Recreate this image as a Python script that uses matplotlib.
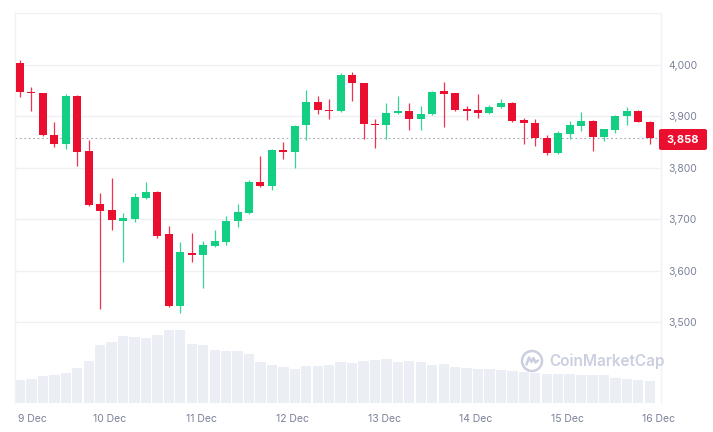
import numpy as np
import matplotlib
matplotlib.use("Agg")
import matplotlib.pyplot as plt
from matplotlib.patches import Circle, FancyBboxPatch

# 3h candles, 9 Dec -> 16 Dec
opens = [4004, 3947, 3944, 3863, 3845, 3940, 3832, 3729, 3718, 3696, 3701, 3742, 3753, 3671,
         3531, 3634, 3630, 3648, 3656, 3696, 3712, 3772, 3764, 3835, 3831, 3882, 3928, 3912,
         3909, 3979, 3964, 3885, 3882, 3906, 3910, 3895, 3904, 3949, 3944, 3913, 3911, 3907,
         3917, 3926, 3893, 3887, 3858, 3828, 3865, 3880, 3891, 3860, 3874, 3901, 3909, 3889]
highs = [4008, 3956, 3945, 3888, 3943, 3941, 3854, 3750, 3780, 3712, 3750, 3772, 3754, 3687,
         3656, 3674, 3657, 3680, 3707, 3729, 3777, 3822, 3837, 3849, 3882, 3950, 3940, 3934,
         3983, 3986, 3965, 3895, 3926, 3940, 3926, 3920, 3948, 3966, 3945, 3920, 3942, 3921,
         3933, 3927, 3896, 3895, 3863, 3872, 3891, 3908, 3893, 3876, 3902, 3917, 3911, 3890]
lows = [3937, 3909, 3861, 3840, 3837, 3804, 3725, 3526, 3680, 3617, 3694, 3739, 3663, 3530,
        3519, 3617, 3566, 3647, 3651, 3685, 3711, 3763, 3757, 3817, 3799, 3854, 3904, 3895,
        3908, 3929, 3856, 3838, 3856, 3905, 3873, 3874, 3902, 3878, 3910, 3893, 3896, 3905,
        3916, 3889, 3845, 3843, 3825, 3827, 3856, 3872, 3832, 3851, 3867, 3883, 3888, 3846]
closes = [3946, 3945, 3863, 3845, 3940, 3830, 3727, 3717, 3698, 3702, 3743, 3753, 3668, 3531,
          3636, 3630, 3650, 3658, 3697, 3715, 3772, 3764, 3835, 3831, 3880, 3928, 3911, 3909,
          3979, 3964, 3885, 3882, 3907, 3910, 3895, 3904, 3947, 3943, 3912, 3909, 3907, 3917,
          3926, 3891, 3887, 3857, 3828, 3867, 3882, 3891, 3860, 3875, 3901, 3909, 3889, 3858]
volumes = [2.27, 2.40, 2.67, 2.77, 3.03, 3.53, 4.20, 5.77, 6.10, 6.67, 6.60, 6.50, 6.77, 7.27,
           7.27, 5.93, 5.77, 5.33, 5.20, 5.20, 4.93, 4.10, 3.77, 3.60, 3.43, 3.67, 3.67, 3.77,
           4.10, 4.03, 4.20, 4.27, 4.37, 4.10, 4.17, 4.10, 3.77, 3.87, 3.60, 3.53, 3.43, 3.43,
           3.33, 3.20, 3.10, 3.03, 2.93, 2.93, 2.87, 2.83, 2.77, 2.77, 2.53, 2.40, 2.27, 2.20]
day_labels = ["9 Dec", "10 Dec", "11 Dec", "12 Dec", "13 Dec", "14 Dec", "15 Dec", "16 Dec"]
price_ticks = [3500, 3600, 3700, 3800, 3900, 4000]
last_price = 3858

RED = "#ea0f2f"
GREEN = "#12cf84"
GRID = "#eff0f4"
TXT = "#7b8199"

W, H = 713, 432
fig = plt.figure(figsize=(W / 100, H / 100), dpi=100)
rect = [15 / W, 1 - 403 / H, (661 - 15) / W, (403 - 13) / H]

x = np.arange(len(opens))

# volume behind
vax = fig.add_axes(rect, zorder=1)
vax.bar(x, volumes, width=0.9, color="#eceef6", linewidth=0)
vax.set_xlim(-0.44, 55.98)
vax.set_ylim(0, 39)
vax.axis("off")

ax = fig.add_axes(rect, zorder=2)
ax.patch.set_alpha(0)
for i in x:
    o, h, l, c = opens[i], highs[i], lows[i], closes[i]
    col = GREEN if c >= o else RED
    ax.vlines(i, l, h, color=col, linewidth=0.9, alpha=0.85, zorder=3)
    lo, hi = min(o, c), max(o, c)
    if hi - lo < 2.5:
        mid = (hi + lo) / 2
        lo, hi = mid - 1.25, mid + 1.25
    ax.bar(i, hi - lo, bottom=lo, width=0.7, color=col, linewidth=0, zorder=4)

ax.axhline(last_price, color="#a3a8b8", linestyle=(0, (1.5, 2.5)), linewidth=0.8, zorder=2)

ax.set_xlim(-0.44, 55.98)
ax.set_ylim(3343.7, 4100)
ax.set_yticks(price_ticks + [4100])
ax.set_yticklabels([f"{v:,}" for v in price_ticks] + [""])
ax.yaxis.tick_right()
ax.grid(axis="y", color=GRID, linewidth=1)
ax.set_axisbelow(True)
ax.tick_params(axis="y", length=0, pad=5, labelsize=7.5, labelcolor=TXT)
ax.tick_params(axis="x", length=0, pad=8, labelsize=7.5, labelcolor=TXT)
for lab in ax.get_yticklabels():
    lab.set_fontfamily("Inter")

ax.set_xticks([8 * k - 0.2 for k in range(len(day_labels))])
ax.set_xticklabels(day_labels)
for k, lab in enumerate(ax.get_xticklabels()):
    lab.set_fontfamily("Inter")
    if k == 0:
        lab.set_ha("left")

for s in ["top", "bottom"]:
    ax.spines[s].set_visible(False)
for s in ["left", "right"]:
    ax.spines[s].set_color("#f0f1f4")
    ax.spines[s].set_linewidth(1)

# current price tag
fig.patches.append(FancyBboxPatch((659 / W, 1 - 150 / H), 48 / W, 21 / H,
                                  boxstyle="round,pad=0,rounding_size=0.004",
                                  transform=fig.transFigure, facecolor=RED,
                                  edgecolor="none", zorder=5))
fig.text(683 / W, 1 - 139.5 / H, f"{last_price:,}", color="white", fontsize=8,
         fontweight="bold", family="Inter", ha="center", va="center", zorder=6)

# watermark
wm = "#cbcfe0"
fig.text(549 / W, 1 - 361 / H, "CoinMarketCap", color=wm, fontsize=11,
         fontweight="semibold", family="Inter", ha="left", va="center", zorder=3)
lax = fig.add_axes([520 / W, 1 - 373 / H, 24 / W, 24 / H], zorder=3)
lax.set_xlim(-1.2, 1.2)
lax.set_ylim(-1.2, 1.2)
lax.set_aspect("equal")
lax.axis("off")
lax.add_patch(Circle((0, 0), 1.0, fill=False, edgecolor=wm, linewidth=1.8))
t = np.linspace(-0.6, 0.6, 50)
lax.plot([-0.55, -0.3, -0.05, 0.15, 0.35, 0.6], [-0.35, 0.35, -0.1, 0.3, -0.15, 0.05],
         color=wm, linewidth=1.8, solid_capstyle="round", solid_joinstyle="round")

fig.savefig("out.png", dpi=100)
